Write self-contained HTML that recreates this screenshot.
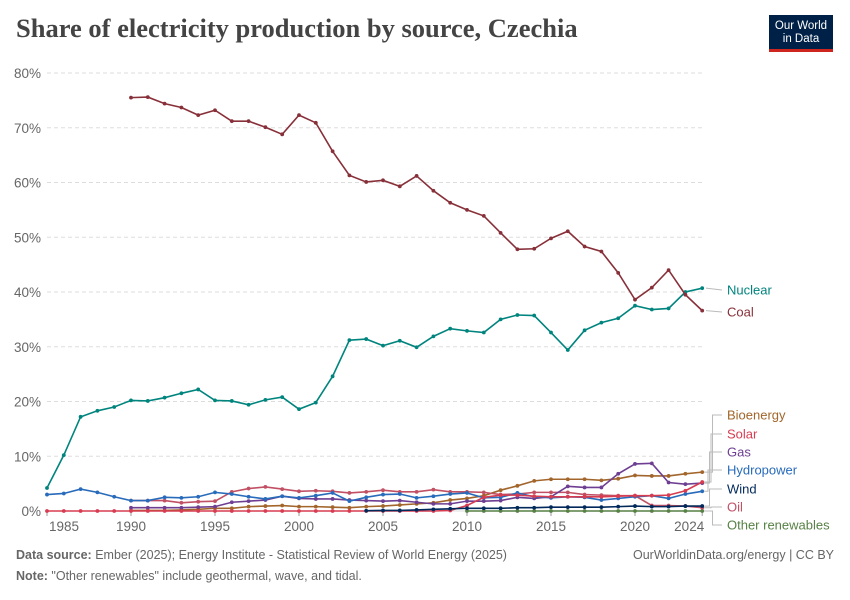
<!DOCTYPE html>
<html><head><meta charset="utf-8"><style>
body{margin:0;background:#fff;font-family:"Liberation Sans",sans-serif}
#w{position:relative;width:850px;height:600px;overflow:hidden}
</style></head><body>
<div id="w">
<div style="position:absolute;left:16px;top:13px;font-family:'Liberation Serif',serif;font-size:26.5px;font-weight:bold;color:#444">Share of electricity production by source, Czechia</div>
<div style="position:absolute;left:769px;top:15px;width:64px;height:37px;background:#002147;color:#fff;font-size:11.5px;text-align:center;line-height:13px;box-sizing:border-box;padding-top:5px;border-bottom:3px solid #ce261e">Our World<br>in Data</div>
<svg id="c" width="850" height="600" style="position:absolute;left:0;top:0"></svg>
<div style="position:absolute;left:16px;top:548px;font-size:12.5px;color:#666"><b>Data source:</b> Ember (2025); Energy Institute - Statistical Review of World Energy (2025)</div>
<div style="position:absolute;right:16px;top:548px;font-size:12.5px;color:#666">OurWorldinData.org/energy | CC BY</div>
<div style="position:absolute;left:16px;top:569px;font-size:12.5px;color:#666"><b>Note:</b> "Other renewables" include geothermal, wave, and tidal.</div>
</div>
<script>
const yearStart = 1985;
const yTicks = [0,10,20,30,40,50,60,70,80];
const xTicks = [1985,1990,1995,2000,2005,2010,2015,2020,2024];
const nuclear = [4.2,10.2,17.2,18.3,19.0,20.2,20.1,20.7,21.5,22.2,20.2,20.1,19.4,20.3,20.8,18.6,19.8,24.6,31.2,31.4,30.2,31.1,29.9,31.9,33.3,32.9,32.6,35.0,35.8,35.7,32.6,29.4,33.0,34.4,35.2,37.5,36.8,37.0,40.0,40.7];
const coal = [null,null,null,null,null,75.5,75.6,74.4,73.7,72.3,73.2,71.2,71.2,70.1,68.8,72.3,70.9,65.7,61.3,60.1,60.4,59.3,61.2,58.5,56.3,55.0,53.9,50.8,47.8,47.9,49.8,51.1,48.3,47.4,43.5,38.6,40.8,44.0,39.5,36.6];
const hydro = [3.0,3.2,4.0,3.4,2.6,1.9,1.9,2.5,2.4,2.6,3.4,3.1,2.6,2.2,2.7,2.4,2.8,3.3,1.8,2.5,3.0,3.1,2.4,2.7,3.1,3.3,2.4,2.5,3.3,2.6,2.4,2.6,2.5,2.0,2.3,2.6,2.8,2.3,3.1,3.6];
const oil = [null,null,null,null,null,1.9,1.9,1.9,1.5,1.7,1.8,3.5,4.1,4.4,4.0,3.6,3.7,3.6,3.3,3.5,3.8,3.5,3.5,3.9,3.5,3.5,3.4,3.0,3.1,3.4,3.4,3.4,3.0,2.9,2.8,2.8,1.0,1.0,0.9,0.6];
const gas = [null,null,null,null,null,0.6,0.6,0.6,0.6,0.7,0.8,1.6,1.8,2.0,2.7,2.3,2.2,2.2,2.0,1.9,1.8,1.9,1.6,1.3,1.3,1.8,1.8,1.9,2.5,2.3,2.6,4.5,4.3,4.3,6.8,8.6,8.7,5.2,4.9,5.1];
const bio = [null,null,null,null,null,0.1,0.1,0.1,0.2,0.3,0.5,0.5,0.8,0.9,1.0,0.8,0.8,0.7,0.6,0.8,0.9,1.1,1.3,1.5,2.0,2.3,2.8,3.8,4.6,5.5,5.8,5.8,5.8,5.6,5.9,6.5,6.4,6.4,6.8,7.1];
const solar = [0,0,0,0,0,0,0,0,0,0,0,0,0,0,0,0,0,0,0,0,0,0,0,0,0.1,1.0,2.5,2.9,2.9,2.7,2.6,2.6,2.6,2.6,2.7,2.8,2.8,2.9,3.7,5.3];
const wind = [null,null,null,null,null,null,null,null,null,null,null,null,null,null,null,null,null,null,null,0.05,0.1,0.1,0.2,0.3,0.4,0.5,0.5,0.5,0.6,0.6,0.7,0.7,0.7,0.7,0.8,0.9,0.8,0.8,0.9,0.9];
const other = [null,null,null,null,null,null,null,null,null,null,null,null,null,null,null,null,null,null,null,null,null,null,null,null,null,0,0,0,0,0,0,0,0,0,0,0,0,0,0,0];
const series = [
 {name:'other-renewables',vals:other,color:'#578145'},
 {name:'bioenergy',vals:bio,color:'#a2652b'},
 {name:'oil',vals:oil,color:'#c15065'},
 {name:'gas',vals:gas,color:'#6d3e91'},
 {name:'hydropower',vals:hydro,color:'#286bbb'},
 {name:'solar',vals:solar,color:'#d73c50'},
 {name:'wind',vals:wind,color:'#00295b'},
 {name:'nuclear',vals:nuclear,color:'#00847e'},
 {name:'coal',vals:coal,color:'#883039'}];
const NS='http://www.w3.org/2000/svg', svg=document.getElementById('c');
const x=y=>47+(y-1985)*16.8, yS=v=>511-v*5.475;
function mk(t,a){const e=document.createElementNS(NS,t);for(const k in a)e.setAttribute(k,a[k]);svg.appendChild(e);return e;}
yTicks.forEach(t=>{
 const l=mk('line',{x1:47,x2:703,y1:yS(t),y2:yS(t),stroke:'#ddd','stroke-dasharray':t?'4,3':'none'});
 
 
 const tx=mk('text',{x:41,y:yS(t)+5,'text-anchor':'end','font-size':13.5,fill:'#666','font-family':'Liberation Sans'});
 tx.textContent=t+'%';
 
 
});
xTicks.forEach(t=>{
 let px=x(t); if(t==1985)px+=17; if(t==2024)px-=13;
 mk('line',{x1:x(t),x2:x(t),y1:511,y2:516,stroke:'#999'});
 const tx=mk('text',{x:px,y:531,'text-anchor':'middle','font-size':13.5,fill:'#666','font-family':'Liberation Sans'});
 tx.textContent=t;
 
 
});
series.forEach(s=>{
 let d='';let pen=false;
 s.vals.forEach((v,i)=>{if(v==null){pen=false;return;}d+=(pen?'L':'M')+x(yearStart+i)+','+yS(v);pen=true;});
 const p=mk('path',{d:d,fill:'none',stroke:s.color,'stroke-width':1.6});
 
 
 s.vals.forEach((v,i)=>{if(v==null)return;
  const c=mk('circle',{cx:x(yearStart+i),cy:yS(v),r:1.9,fill:s.color});
  
  
 });
});
const labels=[['Nuclear',290,'#00847e',nuclear[39]],['Coal',312,'#883039',coal[39]],['Bioenergy',415,'#a2652b',bio[39]],['Solar',434,'#d73c50',solar[39]],['Gas',452,'#6d3e91',gas[39]],['Hydropower',470,'#286bbb',hydro[39]],['Wind',489,'#00295b',wind[39]],['Oil',507,'#c15065',oil[39]],['Other renewables',525,'#578145',other[39]]];
labels.forEach((l,i)=>{
 const ly=l[1], vy=yS(l[3]);
 const kx=i<2?null:708+Math.abs(i-5)*1.5;
 const d=i<2?`M706,${vy}L722,${ly}`:`M704,${vy}L${kx},${vy}L${kx},${ly}L722,${ly}`;
 mk('path',{d:d,fill:'none',stroke:'#bbb','stroke-width':1});
 const t=mk('text',{x:727,y:l[1]+4.5,'font-size':13,fill:l[2],'font-family':'Liberation Sans'});
 t.textContent=l[0];
 
 
});
</script>
</body></html>
